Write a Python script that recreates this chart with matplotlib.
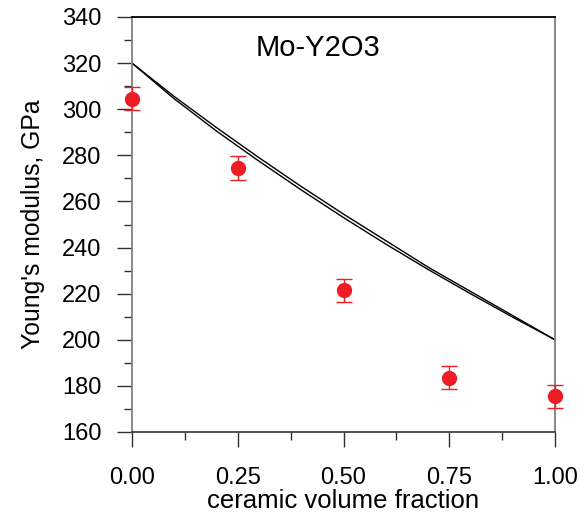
import matplotlib
matplotlib.use('Agg')
import matplotlib.pyplot as plt
from matplotlib.ticker import MultipleLocator, FormatStrFormatter

plt.rcParams['font.family'] = ['Liberation Sans', 'DejaVu Sans']
plt.rcParams['xtick.major.pad'] = 14
plt.rcParams['ytick.major.pad'] = 11
plt.rcParams['xtick.major.size'] = 11
plt.rcParams['ytick.major.size'] = 11
plt.rcParams['xtick.minor.size'] = 6
plt.rcParams['ytick.minor.size'] = 6

# measured points (ceramic fraction, modulus GPa, error)
frac = [0.0, 0.25, 0.5, 0.75, 1.0]
modulus = [304.5, 274.5, 221.5, 183.5, 175.5]
err = [5, 5, 5, 5, 5]

# model bounds
x_model = [0.0, 0.1, 0.2, 0.3, 0.4, 0.5, 0.6, 0.7, 0.8, 0.9, 1.0]
upper = [320, 305.5, 292, 279, 266.5, 254.5, 243, 231.5, 221, 210.5, 200]
lower = [320, 304.5, 290.5, 277.5, 265, 253, 241.5, 230.5, 220, 209.8, 200]

fig = plt.figure(figsize=(5.87, 5.21), dpi=100)
ax = fig.add_axes([132/587, 89/521, 423/587, 415/521])

ax.plot(x_model, upper, color='black', lw=1.0)
ax.plot(x_model, lower, color='black', lw=1.0)
ax.errorbar(frac, modulus, yerr=err, fmt='o', color='#ee1c25', ms=10,
            ecolor='#ee1c25', elinewidth=1.0, capsize=6, capthick=1.0,
            clip_on=False, zorder=5)

ax.set_xlim(0, 1)
ax.set_ylim(160, 340)
ax.xaxis.set_major_locator(MultipleLocator(0.25))
ax.xaxis.set_minor_locator(MultipleLocator(0.125))
ax.yaxis.set_major_locator(MultipleLocator(20))
ax.yaxis.set_minor_locator(MultipleLocator(10))
ax.xaxis.set_major_formatter(FormatStrFormatter('%.2f'))

ax.spines['left'].set_color('#808080')
ax.spines['right'].set_color('#808080')
ax.spines['bottom'].set_color('#404040')
ax.spines['top'].set_color('black')
for s in ax.spines.values():
    s.set_linewidth(1.3)

ax.tick_params(which='both', direction='out', width=1.0, color='#303030')
ax.tick_params(which='major', labelsize=17)

ax.set_xlabel('ceramic volume fraction', fontsize=18.5, labelpad=0)
ax.set_ylabel("Young's modulus, GPa", fontsize=17.8, labelpad=12)
ax.text(0.44, 326.5, 'Mo-Y2O3', fontsize=21, ha='center', va='center')

fig.savefig('out.png', dpi=100)
